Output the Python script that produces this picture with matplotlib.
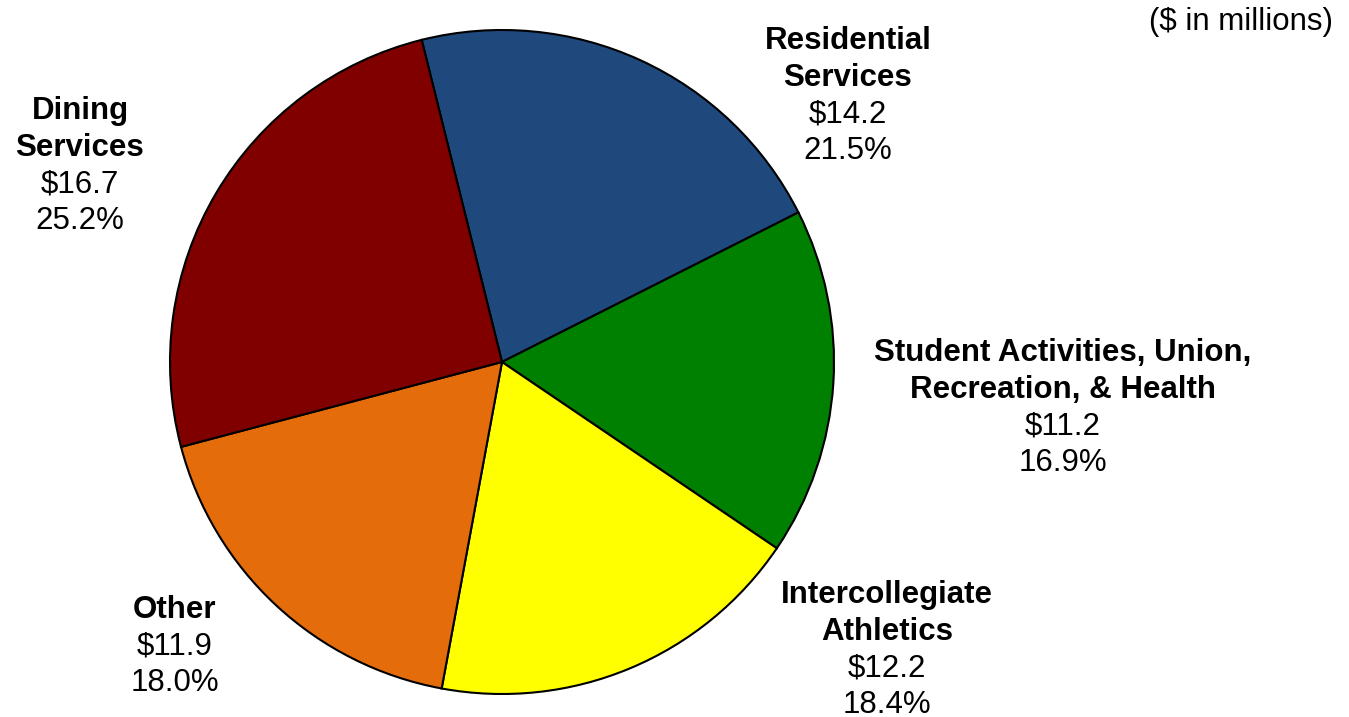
import matplotlib
matplotlib.use("Agg")
import matplotlib.pyplot as plt

categories = ["Residential\nServices", "Student Activities, Union,\nRecreation, & Health",
              "Intercollegiate\nAthletics", "Other", "Dining\nServices"]
values = [14.2, 11.2, 12.2, 11.9, 16.7]
value_labels = ["$14.2", "$11.2", "$12.2", "$11.9", "$16.7"]
pct_labels = ["21.5%", "16.9%", "18.4%", "18.0%", "25.2%"]
colors = ["#1F497D", "#008000", "#FFFF00", "#E46C0A", "#800000"]

W, H = 1349, 717
fig = plt.figure(figsize=(W / 100, H / 100), dpi=100)
ax = fig.add_axes([0, 0, 1, 1])

cx, cy, R = 502, 362, 332
ax.pie(values, colors=colors, startangle=104.0, counterclock=False,
       wedgeprops=dict(edgecolor="black", linewidth=1.5), radius=1.0, center=(0, 0))
ax.set_xlim(-cx / R, (W - cx) / R)
ax.set_ylim((cy - H) / R, cy / R)
ax.set_aspect("auto")
ax.axis("off")

def px(x, y):
    return (x - cx) / R, (cy - y) / R

font = "Liberation Sans"
fs = 22.5
spacing = 36.7
anchors = [(848, 41), (1063, 353), (887, 595), (175, 610), (80, 111)]
for cat, vl, pl, (x0, y0) in zip(categories, value_labels, pct_labels, anchors):
    lines = [(t, "bold") for t in cat.split("\n")] + [(vl, "normal"), (pl, "normal")]
    for i, (t, w) in enumerate(lines):
        tx, ty = px(x0, y0 + i * spacing)
        ax.text(tx, ty, t, ha="center", va="center", fontsize=fs, fontweight=w,
                family=font, color="black")

tx, ty = px(1333, 22)
ax.text(tx, ty, "($ in millions)", ha="right", va="center", fontsize=fs,
        family=font, color="black")

fig.savefig("out.png", dpi=100)
